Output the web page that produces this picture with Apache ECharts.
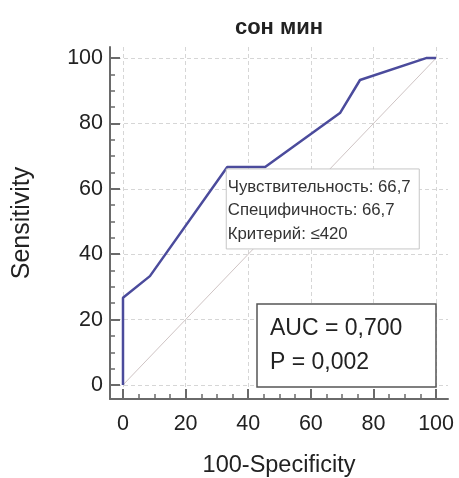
<!DOCTYPE html>
<html>
<head>
<meta charset="utf-8">
<script src="https://cdn.jsdelivr.net/npm/echarts@6.0.0/dist/echarts.min.js"></script>
<style>
html,body{margin:0;padding:0;background:#fff;}
#main{width:459px;height:478px;}
</style>
</head>
<body>
<div id="main"></div>
<script>
// ROC curve data (100-Specificity, Sensitivity)
const fpr = [0, 0, 8.6, 33.3, 45.4, 69.4, 75.7, 96.8, 100];
const sens = [0, 26.7, 33.3, 66.7, 66.7, 83.3, 93.3, 100, 100];
const diagX = [0, 100];
const diagY = [0, 100];
const majorTicks = [0, 20, 40, 60, 80, 100];
const minorTicks = [5, 10, 15, 25, 30, 35, 45, 50, 55, 65, 70, 75, 85, 90, 95];
const titleText = 'сон мин';
const xName = '100-Specificity';
const yName = 'Sensitivity';
const criterionPoint = [33.3, 66.7];
const criterionLines = ['Чувствительность: 66,7', 'Специфичность: 66,7', 'Критерий: ≤420'];
const statLines = ['AUC = 0,700', 'P = 0,002'];

const FONT = 'Arial, "Liberation Sans", sans-serif';
const chart = echarts.init(document.getElementById('main'), null, {renderer: 'canvas'});

const xMin = -4.15, xMax = 103.8, yMin = -4.3, yMax = 103.4;

function majorAxis(isX) {
  return {
    type: 'value',
    min: isX ? xMin : yMin,
    max: isX ? xMax : yMax,
    position: isX ? 'bottom' : 'left',
    name: isX ? xName : yName,
    nameLocation: 'middle',
    nameGap: isX ? 55 : 75,
    nameTextStyle: {fontFamily: FONT, fontSize: isX ? 23.5 : 25, color: '#222'},
    axisLine: {show: true, onZero: false, lineStyle: {color: '#6a6a6a', width: 2}},
    axisTick: {show: true, inside: true, length: 10, customValues: majorTicks, lineStyle: {color: '#6a6a6a', width: 2}},
    axisLabel: {show: true, customValues: majorTicks, margin: isX ? 14 : 7, fontFamily: FONT, fontSize: 21.5, color: '#222'},
    splitLine: {show: true, lineStyle: {color: '#d6d6d6', type: [4, 3], width: 1}}
  };
}
function minorAxis(isX) {
  return {
    type: 'value',
    min: isX ? xMin : yMin,
    max: isX ? xMax : yMax,
    position: isX ? 'bottom' : 'left',
    axisLine: {show: false, onZero: false},
    axisTick: {show: true, inside: true, length: 5, customValues: minorTicks, lineStyle: {color: '#6a6a6a', width: 1.5}},
    axisLabel: {show: false},
    splitLine: {show: false}
  };
}

const option = {
  animation: false,
  backgroundColor: '#fff',
  title: {
    text: titleText, left: 274, top: 12, textAlign: 'center',
    textStyle: {fontFamily: FONT, fontSize: 22, fontWeight: 'bold', color: '#222'}
  },
  grid: {left: 110, top: 47, right: 11, bottom: 79, containLabel: false, outerBoundsMode: 'none'},
  xAxis: [majorAxis(true), minorAxis(true)],
  yAxis: [majorAxis(false), minorAxis(false)],
  series: [
    {
      type: 'line', xAxisIndex: 0, yAxisIndex: 0,
      data: diagX.map((x, i) => [x, diagY[i]]),
      symbol: 'none', silent: true, z: 2,
      lineStyle: {color: '#cfc4c4', width: 1}
    },
    {
      type: 'line', xAxisIndex: 0, yAxisIndex: 0,
      data: fpr.map((x, i) => [x, sens[i]]),
      symbol: 'none', z: 3,
      lineStyle: {color: '#4b4b9c', width: 2.5}
    }
  ]
};
chart.setOption(option);

const p = chart.convertToPixel({xAxisIndex: 0, yAxisIndex: 0}, criterionPoint);
const bx = p[0] - 1, by = p[1] + 2;
chart.setOption({
  graphic: [
    {type: 'rect', z: 100, shape: {x: bx, y: by, width: 193, height: 80},
     style: {fill: '#fff', stroke: '#c6c6c6', lineWidth: 1}},
    ...criterionLines.map((t, i) => ({
      type: 'text', z: 101, x: bx + 1.5, y: by + 18 + i * 23.5,
      style: {text: t, fontFamily: FONT, fontSize: 16.8, fill: '#333', verticalAlign: 'middle', align: 'left'}
    })),
    {type: 'rect', z: 100, shape: {x: 257, y: 304, width: 179, height: 83},
     style: {fill: '#fff', stroke: '#555', lineWidth: 1.5}},
    ...statLines.map((t, i) => ({
      type: 'text', z: 101, x: 270, y: 329 + i * 34,
      style: {text: t, fontFamily: FONT, fontSize: 23, fill: '#222', verticalAlign: 'middle', align: 'left'}
    }))
  ]
});
</script>
</body>
</html>
